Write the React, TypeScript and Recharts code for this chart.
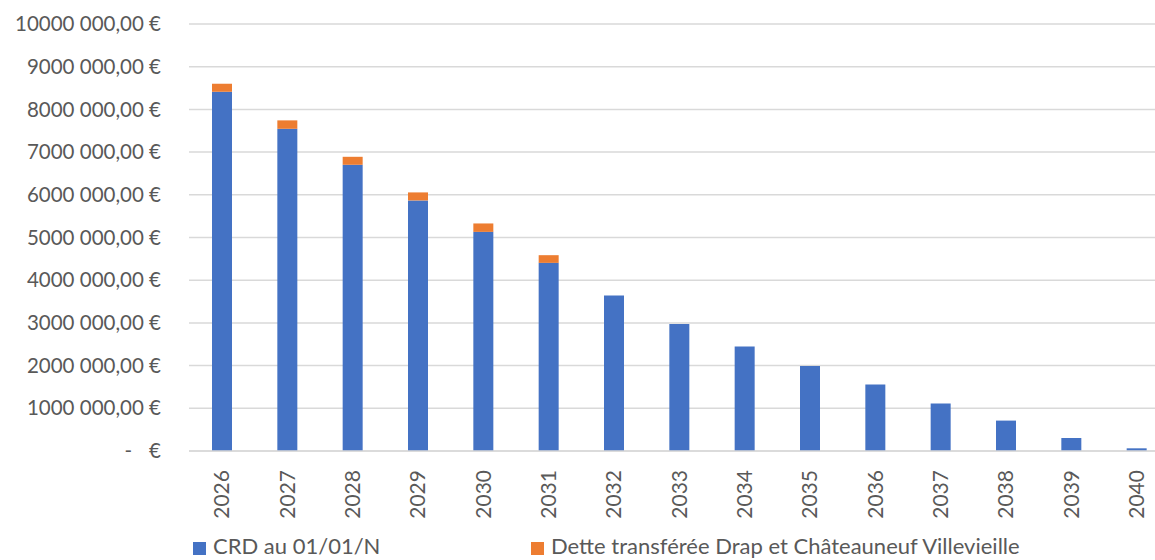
import { BarChart, Bar, XAxis, YAxis, CartesianGrid } from "recharts";

const years = ["2026", "2027", "2028", "2029", "2030", "2031", "2032", "2033", "2034", "2035", "2036", "2037", "2038", "2039", "2040"];
const crdValues = [8413000, 7546000, 6703000, 5868000, 5132000, 4406000, 3642000, 2976000, 2447000, 1992000, 1556000, 1111000, 712000, 305000, 63000];
const transferValues = [188000, 197000, 187000, 188000, 197000, 180000, 0, 0, 0, 0, 0, 0, 0, 0, 0];
const yTicks = [0, 1000000, 2000000, 3000000, 4000000, 5000000, 6000000, 7000000, 8000000, 9000000, 10000000];
const seriesNames = ["CRD au 01/01/N", "Dette transférée Drap et Châteauneuf Villevieille"];

const BLUE = "#4472C4";
const ORANGE = "#ED7D31";
const TEXT = "#595959";
const FONT = "Lato, 'Open Sans', sans-serif";

const data = years.map((y, i) => ({ year: y, crd: crdValues[i], transfer: transferValues[i] }));

// tick as "10000 000,00 €", and the zero tick as "-   €"
function YTick({ x, y, payload }: any) {
  const v = payload.value as number;
  if (v === 0) {
    return (
      <g>
        <text x={x - 29} y={y} dy="0.35em" textAnchor="end" fill={TEXT} fontSize={20.5} fontFamily={FONT}>-</text>
        <text x={x} y={y} dy="0.35em" textAnchor="end" fill={TEXT} fontSize={20.5} fontFamily={FONT}>€</text>
      </g>
    );
  }
  return (
    <text x={x} y={y} dy="0.35em" textAnchor="end" fill={TEXT} fontSize={20.5} fontFamily={FONT}>
      {`${v / 1000} 000,00 €`}
    </text>
  );
}

function XTick({ x, y, payload }: any) {
  return (
    <text
      x={x}
      y={y + 11}
      dy="0.36em"
      textAnchor="end"
      transform={`rotate(-90, ${x}, ${y + 11})`}
      fill={TEXT}
      fontSize={21}
      fontFamily={FONT}
    >
      {payload.value}
    </text>
  );
}

export default function App() {
  return (
    <div style={{ position: "absolute", left: 0, top: 0, width: 1155, height: 560, overflow: "hidden", background: "#fff" }}>
      <BarChart width={1169} height={560} data={data} margin={{ top: 24, right: 0, bottom: 0, left: 0 }}>
        <CartesianGrid vertical={false} stroke="#d9d9d9" strokeWidth={1.5} />
        <XAxis
          dataKey="year"
          height={109}
          axisLine={{ stroke: "#d9d9d9", strokeWidth: 1.5 }}
          tickLine={false}
          interval={0}
          tick={<XTick />}
        />
        <YAxis
          width={189}
          domain={[0, 10000000]}
          ticks={yTicks}
          axisLine={false}
          tickLine={false}
          tickSize={0}
          tickMargin={28}
          tick={<YTick />}
        />
        <Bar dataKey="crd" name={seriesNames[0]} stackId="a" fill={BLUE} barSize={20} isAnimationActive={false} />
        <Bar dataKey="transfer" name={seriesNames[1]} stackId="a" fill={ORANGE} barSize={20} isAnimationActive={false} />
      </BarChart>

      {/* legend */}
      {[BLUE, ORANGE].map((c, i) => (
        <div
          key={i}
          style={{ position: "absolute", top: 535, left: i === 0 ? 193 : 531, display: "flex", alignItems: "flex-start", fontFamily: FONT, fontSize: 22, lineHeight: "22px", color: TEXT, whiteSpace: "nowrap" }}
        >
          <span style={{ display: "inline-block", width: 13, height: 13, background: c, marginTop: 7, marginRight: 7 }} />
          <span>{seriesNames[i]}</span>
        </div>
      ))}
    </div>
  );
}
